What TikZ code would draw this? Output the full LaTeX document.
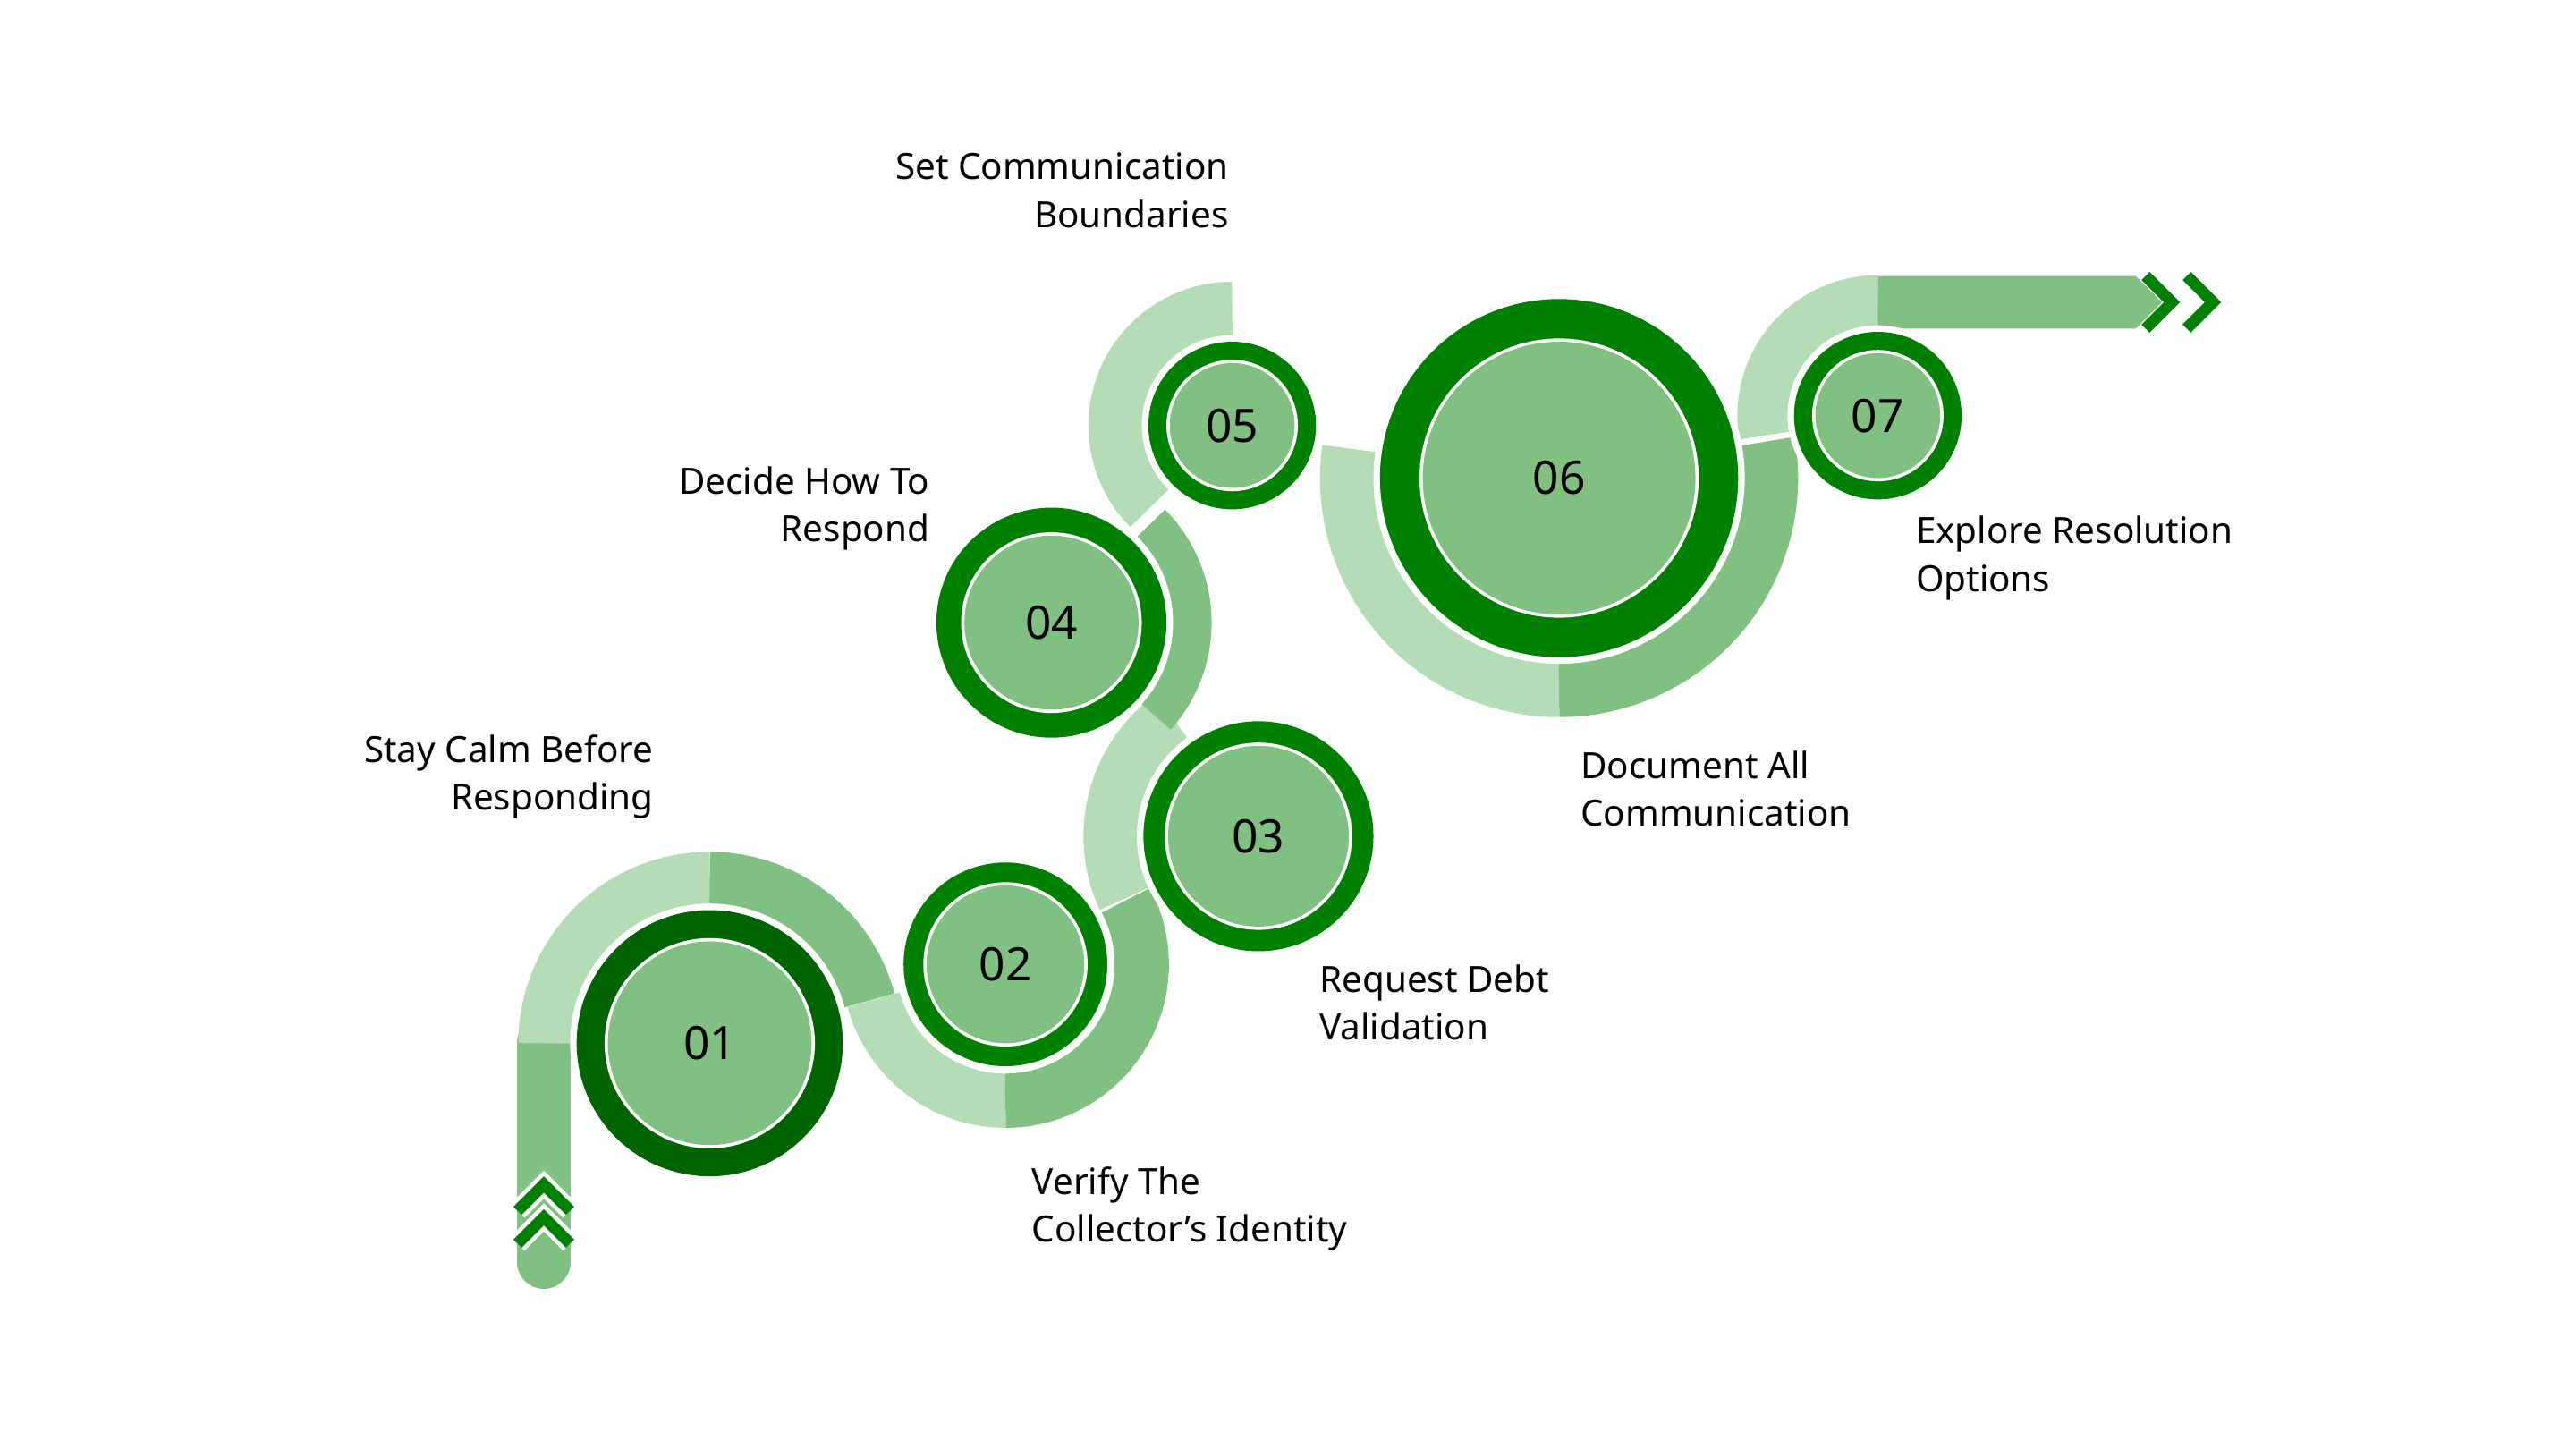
\documentclass[tikz,border=0pt]{standalone}
\usepackage{fontspec}
\setmainfont{Noto Sans}
\definecolor{lightb}{HTML}{B5DDB5}
\definecolor{medb}{HTML}{80C080}
\definecolor{ringg}{HTML}{008000}
\definecolor{ringd}{HTML}{006400}
\begin{document}
\begin{tikzpicture}[x=1pt,y=1pt,
  lb/.style={draw=lightb,line width=33pt},
  mb/.style={draw=medb,line width=33pt},
  lbl/.style={font=\fontsize{22}{29}\selectfont,inner sep=0pt},
  num/.style={font=\fontsize{28}{30}\selectfont\bfseries}]
\useasboundingbox[fill=white] (0,0) rectangle (1568,-882);
% tail
\draw[mb,line cap=round] (331,-635) -- (331,-768);
\foreach \yy in {-725,-745}{
  \draw[white,line width=12pt,line join=miter] (315,\yy-12) -- (331,\yy+4) -- (347,\yy-12);
  \draw[ringg,line width=7pt,line join=miter] (315,\yy-12) -- (331,\yy+4) -- (347,\yy-12);}
% bands
\draw[lb] (432,-635) ++(180:100) arc[start angle=180,end angle=90,radius=100];
\draw[mb] (432,-635) ++(90:100) arc[start angle=90,end angle=15,radius=100];
\draw[lb] (612,-587) ++(195:83) arc[start angle=195,end angle=270,radius=83];
\draw[mb] (612,-587) ++(270:83) arc[start angle=270,end angle=388,radius=83];
\draw[lb] (766,-509) ++(205:90) arc[start angle=205,end angle=126,radius=90];
\draw[mb] (640,-379) ++(-42:81) arc[start angle=-42,end angle=45,radius=81];
\draw[lb] (750,-259) ++(225:71) arc[start angle=225,end angle=90,radius=71];
\draw[lb] (949,-291) ++(172:129) arc[start angle=172,end angle=270,radius=129];
\draw[mb] (949,-291) ++(270:129) arc[start angle=270,end angle=370,radius=129];
\draw[lb] (1143,-253) ++(190:69) arc[start angle=190,end angle=90,radius=69];
\fill[medb] (1143,-168) -- (1300,-168) -- (1316,-184) -- (1300,-200) -- (1143,-200) -- cycle;
\foreach \xx in {1318,1343}{
  \draw[ringg,line width=7pt,line join=miter] (\xx-12,-168) -- (\xx+4,-184) -- (\xx-12,-200);}
% circles
\foreach \n/\cx/\cy/\ro/\ri/\col in {01/432/-635/81/62/ringd,02/612/-587/62/48/ringg,03/766/-509/70/55/ringg,04/640/-379/70/53/ringg,05/750/-259/51/38/ringg,06/949/-291/109/83/ringg,07/1143/-253/51/38/ringg}{
  \fill[white] (\cx,\cy) circle[radius=\ro+4];
  \fill[\col] (\cx,\cy) circle[radius=\ro];
  \fill[white] (\cx,\cy) circle[radius=\ri+2];
  \node[circle,fill=medb,minimum size=2*\ri,inner sep=0pt,num] (c\n) at (\cx,\cy) {\n};}
% labels
\node[lbl,anchor=north east,align=right] (t1) at (398,-447) {Stay Calm Before\\Responding};
\node[lbl,anchor=north west,align=left] (t2) at (628,-710) {Verify The\\Collector’s Identity};
\node[lbl,anchor=north west,align=left] (t3) at (803,-587) {Request Debt\\Validation};
\node[lbl,anchor=north east,align=right] (t4) at (566,-284) {Decide How To\\Respond};
\node[lbl,anchor=north east,align=right] (t5) at (748,-93) {Set Communication\\Boundaries};
\node[lbl,anchor=north west,align=left] (t6) at (962,-457) {Document All\\Communication};
\node[lbl,anchor=north west,align=left] (t7) at (1166,-314) {Explore Resolution\\Options};
\end{tikzpicture}
\end{document}
